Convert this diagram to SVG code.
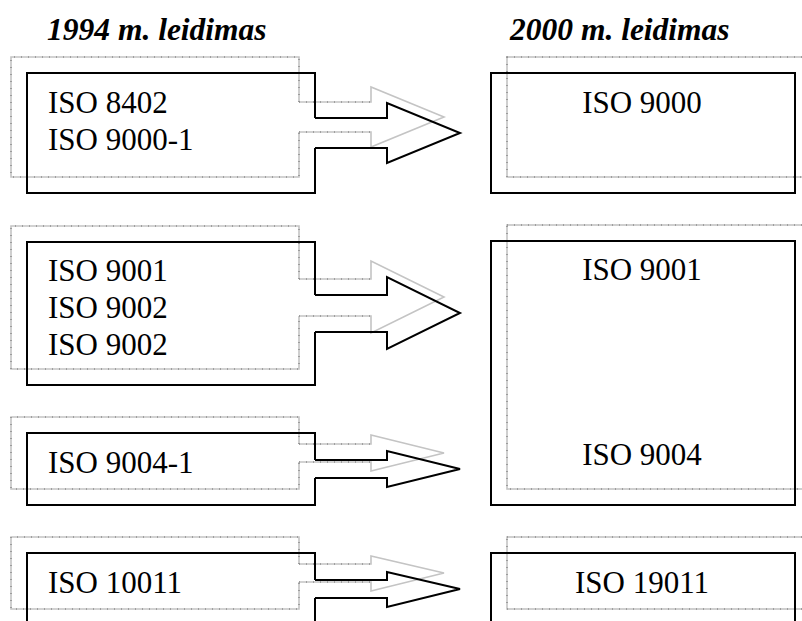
<svg xmlns="http://www.w3.org/2000/svg" width="802" height="621" viewBox="0 0 802 621">
  <style>
    .title { font-family: "Liberation Serif", "Times New Roman", serif; font-size: 31.5px; font-weight: bold; font-style: italic; fill: #000; }
    .label { font-family: "Liberation Serif", "Times New Roman", serif; font-size: 31px; font-weight: normal; font-style: normal; fill: #000; }
    .mid { text-anchor: middle; }
    .line { fill: none; stroke: #000; stroke-width: 2; stroke-linejoin: miter; }
    .shade { fill: none; stroke: #c4c4c4; stroke-width: 1.6; }
    .shade-tick { fill: none; stroke: #8f8f8f; stroke-width: 1.6; stroke-dasharray: 1 6; }
  </style>
  <rect width="802" height="621" fill="#fff"/>

  <!-- column headings -->
  <text class="title" x="47" y="40">1994 m. leidimas</text>
  <text class="title" x="510" y="40">2000 m. leidimas</text>

  <!-- shadow outlines, offset up-left (left column) and up-right (right column) -->
  <g id="shadows">
    <g transform="translate(-16,-16)">
      <path class="shade" d="M315,118 V73 H27 V193 H315 V148"/>
      <path class="shade" d="M315,295 V242 H27 V385 H315 V332"/>
      <path class="shade" d="M315,460 V433 H27 V505 H315 V478"/>
      <path class="shade" d="M315,580 V553 H27 V625 H315 V598"/>
      <path class="shade" d="M315,118 H387 V103 L460,133 L387,163 V148 H315"/>
      <path class="shade" d="M315,295 H387 V277 L460,313 L387,349 V332 H315"/>
      <path class="shade" d="M315,460 H387 V451 L460,469 L387,487 V478 H315"/>
      <path class="shade" d="M315,580 H387 V572 L460,589 L387,607 V598 H315"/>
      <g class="shade-tick">
        <path d="M315,118 V73 H27 V193 H315 V148"/>
        <path d="M315,295 V242 H27 V385 H315 V332"/>
        <path d="M315,460 V433 H27 V505 H315 V478"/>
        <path d="M315,580 V553 H27 V625 H315 V598"/>
        <path d="M315,118 H387 M315,148 H387"/>
        <path d="M315,295 H387 M315,332 H387"/>
        <path d="M315,460 H387 M315,478 H387"/>
        <path d="M315,580 H387 M315,598 H387"/>
      </g>
    </g>
    <g transform="translate(16,-16)">
      <rect class="shade" x="491" y="73" width="304" height="120"/>
      <rect class="shade" x="491" y="241" width="304" height="264"/>
      <rect class="shade" x="491" y="553" width="304" height="72"/>
      <g class="shade-tick">
        <rect x="491" y="73" width="304" height="120"/>
        <rect x="491" y="241" width="304" height="264"/>
        <rect x="491" y="553" width="304" height="72"/>
      </g>
    </g>
  </g>

  <!-- 1994 edition -->
  <g id="old-8402">
    <path class="line" d="M315,118 V73 H27 V193 H315 V148"/>
    <text class="label" x="48" y="113">ISO 8402</text>
    <text class="label" x="48" y="150">ISO 9000-1</text>
  </g>
  <g id="old-9001">
    <path class="line" d="M315,295 V242 H27 V385 H315 V332"/>
    <text class="label" x="48" y="281">ISO 9001</text>
    <text class="label" x="48" y="318">ISO 9002</text>
    <text class="label" x="48" y="355">ISO 9002</text>
  </g>
  <g id="old-9004">
    <path class="line" d="M315,460 V433 H27 V505 H315 V478"/>
    <text class="label" x="48" y="473">ISO 9004-1</text>
  </g>
  <g id="old-10011">
    <path class="line" d="M315,580 V553 H27 V625 H315 V598"/>
    <text class="label" x="48" y="593">ISO 10011</text>
  </g>

  <!-- 2000 edition -->
  <g id="new-9000">
    <rect class="line" x="491" y="73" width="304" height="120"/>
    <text class="label mid" x="642" y="113">ISO 9000</text>
  </g>
  <g id="new-9001">
    <rect class="line" x="491" y="241" width="304" height="264"/>
    <text class="label mid" x="642" y="280">ISO 9001</text>
    <text class="label mid" x="642" y="465">ISO 9004</text>
  </g>
  <g id="new-19011">
    <rect class="line" x="491" y="553" width="304" height="72"/>
    <text class="label mid" x="642" y="593">ISO 19011</text>
  </g>

  <!-- block arrows leaving the 1994 boxes -->
  <g id="connectors">
    <path class="line" d="M315,118 H387 V103 L460,133 L387,163 V148 H315"/>
    <path class="line" d="M315,295 H387 V277 L460,313 L387,349 V332 H315"/>
    <path class="line" d="M315,460 H387 V451 L460,469 L387,487 V478 H315"/>
    <path class="line" d="M315,580 H387 V572 L460,589 L387,607 V598 H315"/>
  </g>
</svg>
